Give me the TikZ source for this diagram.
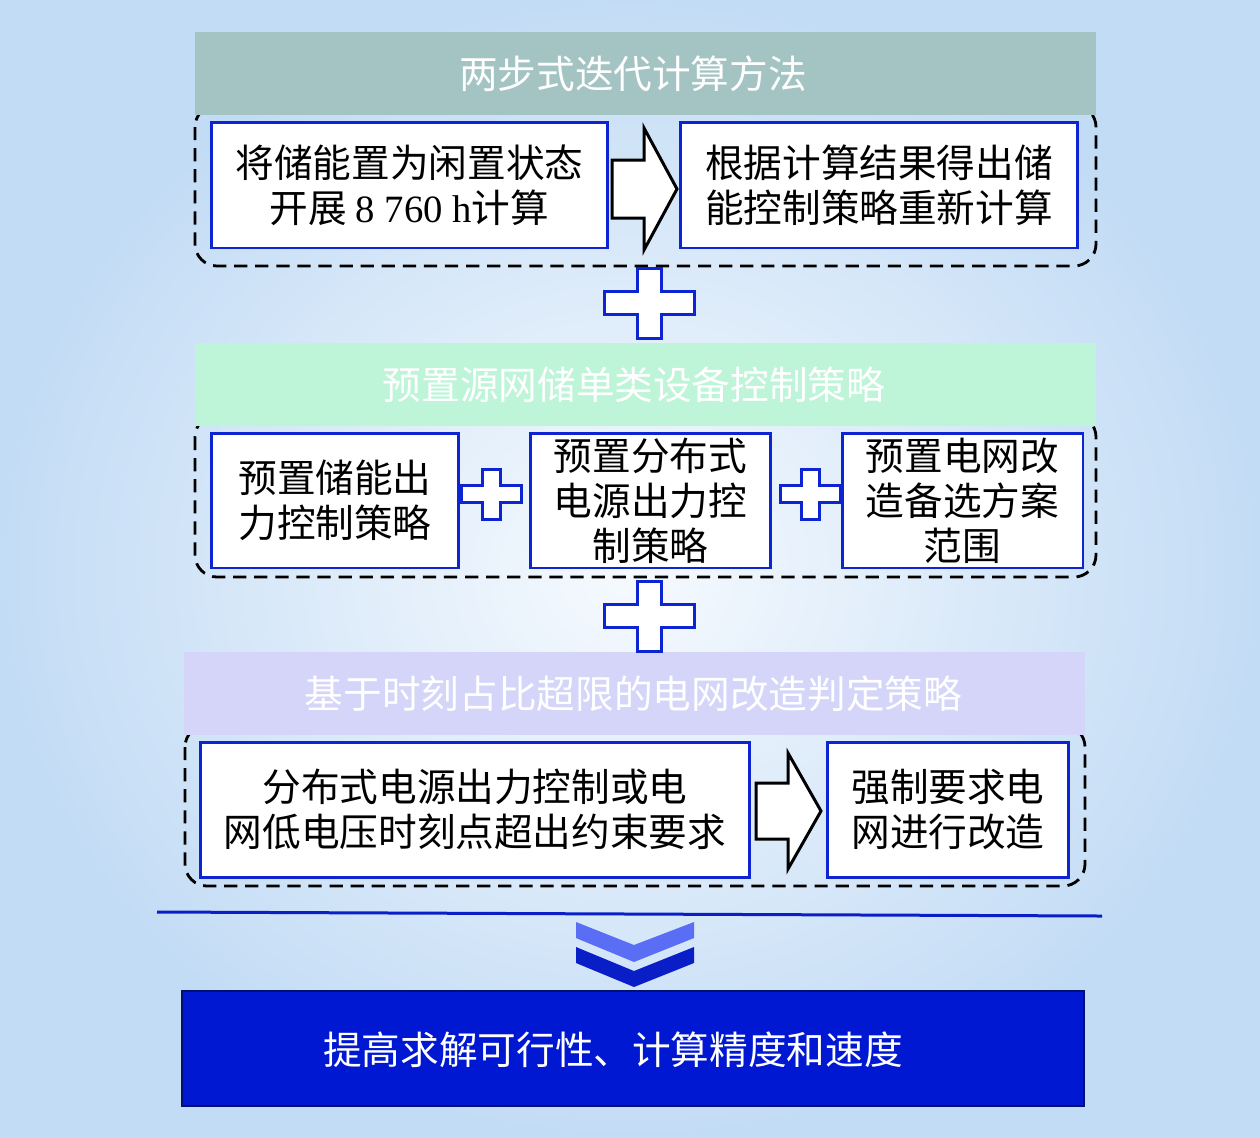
\documentclass[tikz,border=0pt]{standalone}
\usepackage{fontspec}
\setmainfont{Liberation Serif}
\newfontfamily\cjk{Noto Sans CJK SC}
\newfontfamily\lat{Liberation Serif}
\definecolor{bgout}{RGB}{195,220,245}
\definecolor{bgin}{RGB}{246,250,254}
\definecolor{hdrA}{RGB}{163,196,195}
\definecolor{hdrB}{RGB}{190,245,216}
\definecolor{hdrC}{RGB}{212,213,248}
\definecolor{bblue}{RGB}{12,36,210}
\definecolor{fillblue}{RGB}{0,24,210}
\definecolor{navy}{RGB}{0,16,110}
\definecolor{chevL}{RGB}{90,110,245}
\definecolor{chevD}{RGB}{10,30,200}
\tikzset{
  txt/.style={font=\cjk\fontsize{22}{25.5}\selectfont, align=center, inner sep=0pt},
  box/.style={txt, draw=bblue, line width=1.7pt, fill=white},
  hdr/.style={inner sep=0pt, minimum width=18.02cm, minimum height=1.66cm},
  hdrtext/.style={txt, text=white},
  dbox/.style={draw=black, line width=1.6pt, dash pattern=on 7.5pt off 4.5pt, rounded corners=0.44cm},
  plusshape/.style={draw=bblue, fill=white, line width=1.7pt, line join=miter},
  blockarrow/.style={draw=black, fill=white, line width=1.7pt, line join=miter},
}
\begin{document}
\begin{tikzpicture}[x=0.02cm, y=-0.02cm]
\useasboundingbox (0,0) rectangle (1260,1137);
\shade[inner color=bgin, outer color=bgout] (0,0) rectangle (1260,1137);

% dashed groups
\draw[dbox] (195,105) rectangle (1096,266);
\draw[dbox] (195,415) rectangle (1096,577);
\draw[dbox] (185,725) rectangle (1085,886);

% headers
\node[hdr, fill=hdrA] (h1) at (645.5,73.5) {};
\node[hdrtext] (h1t) at (633,74) {两步式迭代计算方法};
\node[hdr, fill=hdrB] (h2) at (645.5,384) {};
\node[hdrtext] (h2t) at (634,385) {预置源网储单类设备控制策略};
\node[hdr, fill=hdrC] (h3) at (634.5,693.5) {};
\node[hdrtext] (h3t) at (633.5,694) {基于时刻占比超限的电网改造判定策略};

% section 1
\node[box, minimum width=7.94cm, minimum height=2.52cm] (a) at (409.5,185)
  {将储能置为闲置状态\\开展 {\lat 8 760 h}计算};
\node[box, minimum width=7.96cm, minimum height=2.52cm] (b) at (879,185)
  {根据计算结果得出储\\能控制策略重新计算};
\draw[blockarrow] (612,160) -- (644,160) -- (644,128) -- (677,189) -- (644,250) -- (644,218) -- (612,218) -- cycle;

% plus 1
\draw[plusshape, shift={(649,303)}] (-12,-35) -- (12,-35) -- (12,-11.5) -- (45,-11.5) -- (45,11.5) -- (12,11.5) -- (12,35) -- (-12,35) -- (-12,11.5) -- (-45,11.5) -- (-45,-11.5) -- (-12,-11.5) -- cycle;

% section 2
\node[box, minimum width=4.96cm, minimum height=2.7cm] (c) at (335,500.5)
  {预置储能出\\力控制策略};
\node[box, minimum width=4.82cm, minimum height=2.7cm] (d) at (650.5,500.5)
  {预置分布式\\电源出力控\\制策略};
\node[box, minimum width=4.82cm, minimum height=2.7cm] (e) at (962.5,500.5)
  {预置电网改\\造备选方案\\范围};
\draw[plusshape, shift={(491,494)}] (-9,-25) -- (9,-25) -- (9,-8.5) -- (30,-8.5) -- (30,8.5) -- (9,8.5) -- (9,25) -- (-9,25) -- (-9,8.5) -- (-30,8.5) -- (-30,-8.5) -- (-9,-8.5) -- cycle;
\draw[plusshape, shift={(810,494)}] (-9,-25) -- (9,-25) -- (9,-8.5) -- (30,-8.5) -- (30,8.5) -- (9,8.5) -- (9,25) -- (-9,25) -- (-9,8.5) -- (-30,8.5) -- (-30,-8.5) -- (-9,-8.5) -- cycle;

% plus 2
\draw[plusshape, shift={(649,616)}] (-12,-35) -- (12,-35) -- (12,-11.5) -- (45,-11.5) -- (45,11.5) -- (12,11.5) -- (12,35) -- (-12,35) -- (-12,11.5) -- (-45,11.5) -- (-45,-11.5) -- (-12,-11.5) -- cycle;

% section 3
\node[box, minimum width=11.0cm, minimum height=2.7cm] (f) at (475,809.5)
  {分布式电源出力控制或电\\网低电压时刻点超出约束要求};
\node[box, minimum width=4.84cm, minimum height=2.7cm] (g) at (948,809.5)
  {强制要求电\\网进行改造};
\draw[blockarrow] (756,783) -- (788,783) -- (788,753) -- (821,811) -- (788,869) -- (788,839) -- (756,839) -- cycle;

% separator line
\coordinate (l1) at (157,912);
\coordinate (l2) at (1102,916);
\draw[chevD, line width=0.06cm] (l1) -- (l2);

% chevrons
\fill[chevL] (576,922) -- (634,945) -- (694,922) -- (694,938) -- (634,962) -- (576,938) -- cycle;
\fill[chevD] (576,947) -- (634,971) -- (694,947) -- (694,963) -- (634,987) -- (576,963) -- cycle;

% result
\node[draw=navy, line width=1.2pt, fill=fillblue, inner sep=0pt, minimum width=18.04cm, minimum height=2.3cm] (r) at (633,1048.5) {};
\node[hdrtext] (rt) at (613,1050) {提高求解可行性、计算精度和速度};
\end{tikzpicture}
\end{document}
